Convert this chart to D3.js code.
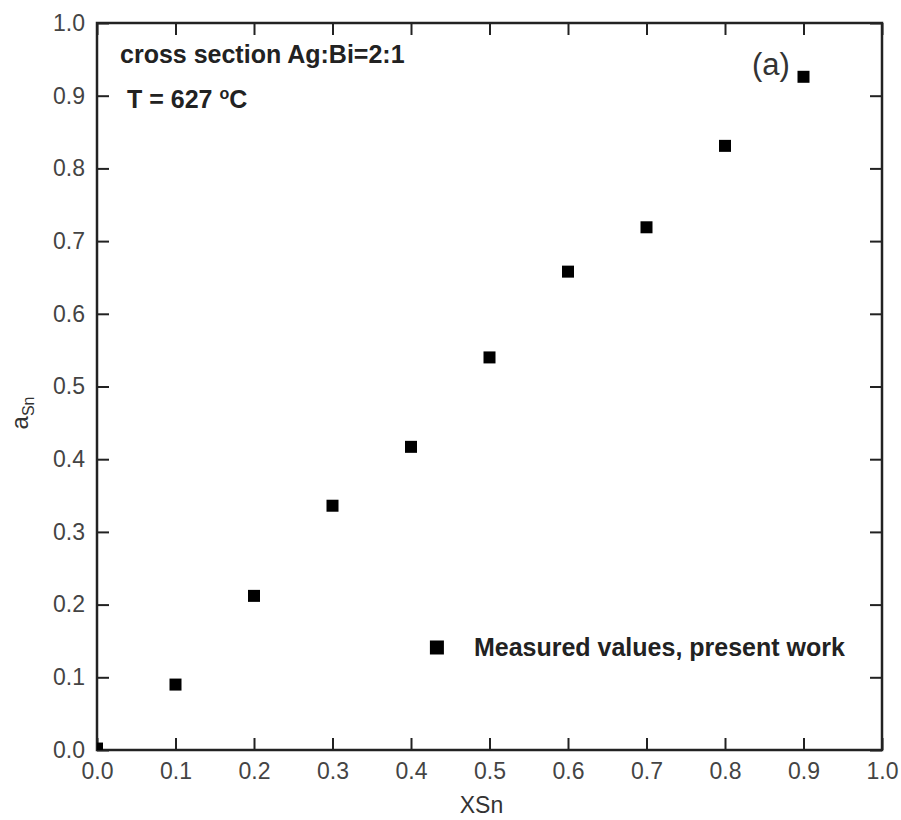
<!DOCTYPE html>
<html>
<head>
<meta charset="utf-8">
<script src="https://cdn.jsdelivr.net/npm/d3@7"></script>
<style>
  html, body { margin: 0; padding: 0; background: #fff; overflow: hidden; }
  svg { display: block; }
  text { font-family: "Liberation Sans", Arial, sans-serif; }
</style>
</head>
<body>
<svg width="901" height="820"></svg>
<script>
const svg = d3.select("svg");

// data
const xSn = [0.0, 0.1, 0.2, 0.3, 0.4, 0.5, 0.6, 0.7, 0.8, 0.9];
const aSn = [0.002, 0.09, 0.212, 0.336, 0.417, 0.540, 0.658, 0.719, 0.831, 0.926];
const tickValues = [0, 0.1, 0.2, 0.3, 0.4, 0.5, 0.6, 0.7, 0.8, 0.9, 1.0];

const margin = { top: 23, right: 19, bottom: 70, left: 97 };
const innerWidth = 901 - margin.left - margin.right;
const innerHeight = 820 - margin.top - margin.bottom;

const xScale = d3.scaleLinear().domain([0, 1]).range([0, innerWidth]);
const yScale = d3.scaleLinear().domain([0, 1]).range([innerHeight, 0]);

const g = svg.append("g")
    .attr("transform", `translate(${margin.left}, ${margin.top})`);

g.append("clipPath").attr("id", "plot-clip")
    .append("rect").attr("width", innerWidth).attr("height", innerHeight);

// axes, ticks pointing inward
const fmt = d3.format(".1f");
const tickLen = 12;

const xAxisG = g.append("g")
    .attr("transform", `translate(0, ${innerHeight})`)
    .call(d3.axisBottom(xScale).tickValues(tickValues).tickFormat(fmt).tickSizeInner(-tickLen).tickSizeOuter(0).tickPadding(13));

const yAxisG = g.append("g")
    .call(d3.axisLeft(yScale).tickValues(tickValues).tickFormat(fmt).tickSizeInner(-tickLen).tickSizeOuter(0).tickPadding(12));

g.append("g")
    .call(d3.axisTop(xScale).tickValues(tickValues).tickFormat("").tickSizeInner(-tickLen).tickSizeOuter(0));

g.append("g")
    .attr("transform", `translate(${innerWidth}, 0)`)
    .call(d3.axisRight(yScale).tickValues(tickValues).tickFormat("").tickSizeInner(-tickLen).tickSizeOuter(0));

g.selectAll(".domain").remove();
g.selectAll(".tick line").attr("stroke", "#222").attr("stroke-width", 2);
g.selectAll(".tick text")
    .attr("font-size", 23)
    .attr("fill", "#444")
    .attr("font-family", "Liberation Sans, Arial, sans-serif");

g.append("rect")
    .attr("width", innerWidth)
    .attr("height", innerHeight)
    .attr("fill", "none")
    .attr("stroke", "#222")
    .attr("stroke-width", 2.5);

// data points
const size = 12;
g.append("g")
    .attr("clip-path", "url(#plot-clip)")
    .selectAll("rect")
    .data(xSn)
    .enter().append("rect")
    .attr("x", (d, i) => xScale(d) - size / 2)
    .attr("y", (d, i) => yScale(aSn[i]) - size / 2)
    .attr("width", size)
    .attr("height", size)
    .attr("fill", "#000");

// axis labels
svg.append("text")
    .attr("x", margin.left + innerWidth / 2 - 8)
    .attr("y", 813)
    .attr("text-anchor", "middle")
    .attr("font-size", 23)
    .attr("fill", "#333")
    .text("XSn");

const yl = svg.append("text")
    .attr("transform", "translate(28, 413) rotate(-90)")
    .attr("text-anchor", "middle")
    .attr("font-size", 24)
    .attr("fill", "#333");
yl.append("tspan").text("a");
yl.append("tspan").attr("font-size", 16).attr("dy", 6).text("Sn");

// annotations
g.append("text")
    .attr("x", 23)
    .attr("y", 40)
    .attr("font-size", 25)
    .attr("font-weight", "bold")
    .attr("fill", "#222")
    .text("cross section Ag:Bi=2:1");

const tLabel = g.append("text")
    .attr("x", 30)
    .attr("y", 85)
    .attr("font-size", 25)
    .attr("font-weight", "bold")
    .attr("fill", "#222");
tLabel.append("tspan").text("T = 627 ");
tLabel.append("tspan").attr("font-size", 16).attr("dy", -9).text("o");
tLabel.append("tspan").attr("dy", 9).text("C");

g.append("text")
    .attr("x", 655)
    .attr("y", 52)
    .attr("font-size", 31)
    .attr("fill", "#333")
    .text("(a)");

// legend
const legend = g.append("g")
    .attr("transform", `translate(${xScale(0.433)}, ${yScale(0.141)})`);
legend.append("rect")
    .attr("x", -7).attr("y", -7)
    .attr("width", 14).attr("height", 14)
    .attr("fill", "#000");
legend.append("text")
    .attr("x", 37)
    .attr("y", 9)
    .attr("font-size", 25)
    .attr("font-weight", "bold")
    .attr("fill", "#222")
    .text("Measured values, present work");
</script>
</body>
</html>
